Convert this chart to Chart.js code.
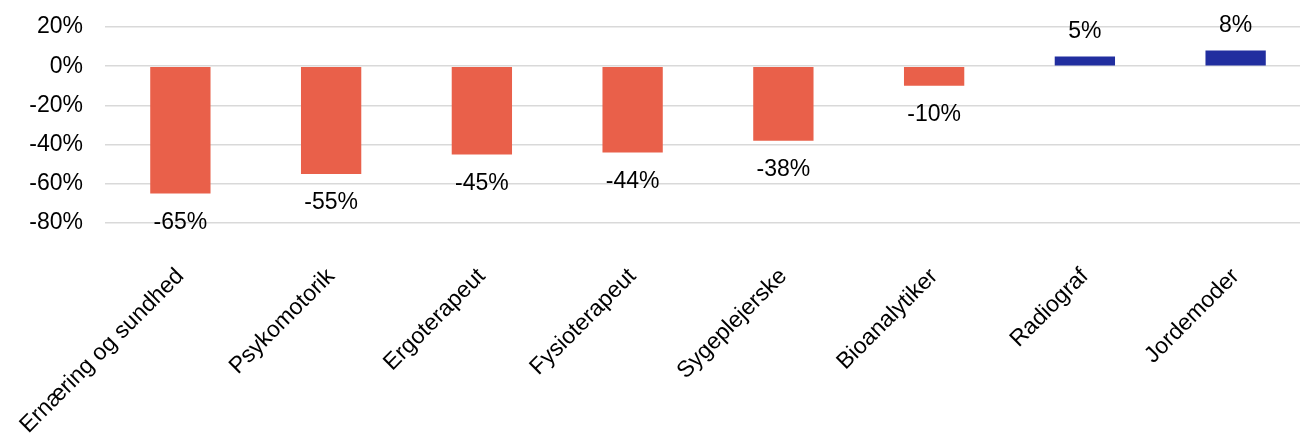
<!DOCTYPE html>
<html>
<head>
<meta charset="utf-8">
<script src="https://cdn.jsdelivr.net/npm/chart.js@4/dist/chart.umd.min.js"></script>
<style>
  html, body { margin: 0; padding: 0; background: #fff; overflow: hidden; }
  #wrap { position: relative; width: 1311px; height: 434px; }
</style>
</head>
<body>
<div id="wrap"><canvas id="c"></canvas></div>
<script>
const categories = ["Ernæring og sundhed", "Psykomotorik", "Ergoterapeut", "Fysioterapeut", "Sygeplejerske", "Bioanalytiker", "Radiograf", "Jordemoder"];
const values = [-65, -55, -45, -44, -38, -10, 5, 8];
const yTicks = [20, 0, -20, -40, -60, -80];

const ORANGE = "#E9604A";
const BLUE = "#212E9F";
const FONT = "'Liberation Sans', Arial, sans-serif";

const valueLabels = {
  id: "valueLabels",
  afterDatasetsDraw(chart) {
    const ctx = chart.ctx;
    const meta = chart.getDatasetMeta(0);
    ctx.save();
    ctx.font = "23px " + FONT;
    ctx.fillStyle = "#000";
    ctx.textAlign = "center";
    ctx.textBaseline = "middle";
    meta.data.forEach((bar, i) => {
      const v = values[i];
      const y = v < 0 ? bar.y + 29 : bar.y - 25;
      ctx.fillText(v + "%", bar.x, y);
    });
    ctx.restore();
  }
};

new Chart(document.getElementById("c"), {
  type: "bar",
  data: {
    labels: categories,
    datasets: [{
      data: values,
      backgroundColor: values.map(v => v < 0 ? ORANGE : BLUE),
      borderWidth: 0,
      barPercentage: 0.4,
      categoryPercentage: 1.0
    }]
  },
  options: {
    responsive: true,
    maintainAspectRatio: false,
    animation: false,
    layout: { padding: { top: 27, right: 0, left: 0, bottom: 0 } },
    plugins: { legend: { display: false }, tooltip: { enabled: false } },
    scales: {
      x: {
        grid: { display: false, drawTicks: false },
        border: { display: false },
        ticks: {
          autoSkip: false,
          minRotation: 45,
          maxRotation: 45,
          padding: 40,
          color: "#000",
          font: { size: 23, family: FONT }
        },
        afterFit(scale) {
          scale.height = 211;
          scale.paddingLeft = 0;
          scale.paddingRight = 0;
        }
      },
      y: {
        min: -80,
        max: 20,
        afterBuildTicks(scale) { scale.ticks = yTicks.map(v => ({ value: v })); },
        grid: { color: "#D9D9D9", lineWidth: 1.5, drawTicks: false },
        border: { display: false },
        ticks: {
          padding: 22,
          color: "#000",
          font: { size: 23, family: FONT },
          callback: v => v + "%"
        },
        afterFit(scale) {
          scale.width = 105;
          scale.paddingTop = 0;
          scale.paddingBottom = 0;
        }
      }
    }
  },
  plugins: [valueLabels]
});
</script>
</body>
</html>
